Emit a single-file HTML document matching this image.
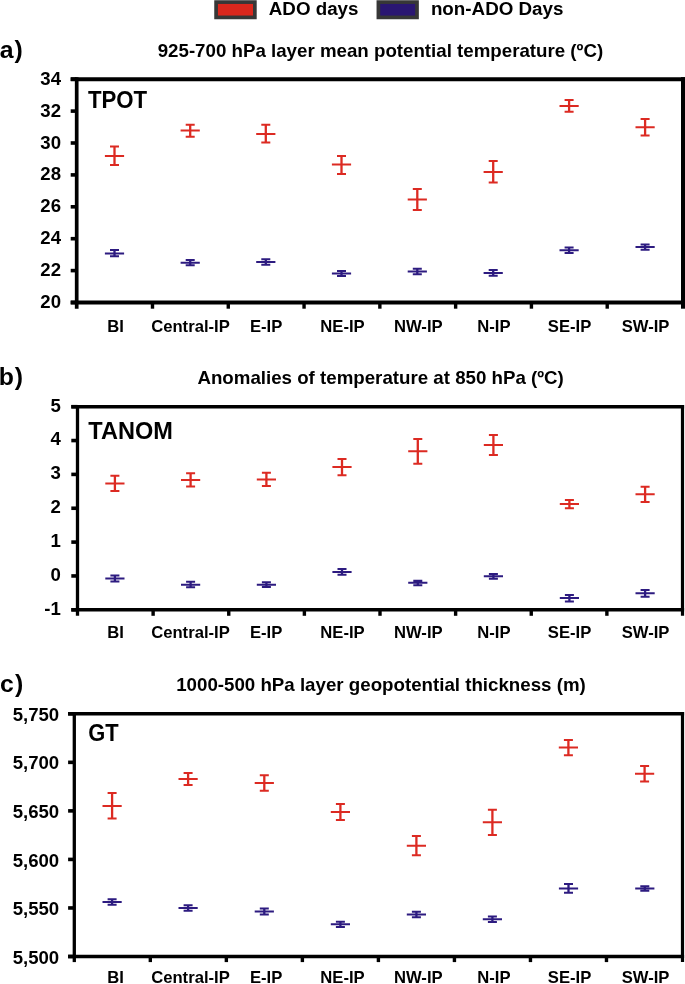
<!DOCTYPE html>
<html><head><meta charset="utf-8"><title>ADO vs non-ADO days</title>
<style>
html,body{margin:0;padding:0;background:#fff;}
body{width:685px;height:984px;overflow:hidden;font-family:"Liberation Sans", sans-serif;}
svg{display:block;will-change:transform;}
</style></head><body>
<svg width="685" height="984" viewBox="0 0 685 984" font-family='"Liberation Sans", sans-serif' font-weight="bold" fill="#000">
<rect width="685" height="984" fill="#fff"/>
<rect x="216.1" y="2.1" width="38.75" height="15.3" fill="#da271d" stroke="#373737" stroke-width="3.7"/>
<rect x="378.4" y="2.1" width="38.6" height="15.3" fill="#2a1672" stroke="#373737" stroke-width="3.7"/>
<text x="268.8" y="14.7" font-size="18.75">ADO days</text>
<text x="430.9" y="14.7" font-size="18.8">non-ADO Days</text>
<text x="-0.3" y="58" font-size="24.8">a<tspan dx="0.9">)</tspan></text>
<text x="-1.3" y="385.1" font-size="24.8">b<tspan dx="0.9">)</tspan></text>
<text x="0" y="691.9" font-size="24.8">c<tspan dx="1.1">)</tspan></text>
<text x="157.7" y="56.6" font-size="18.72">925-700 hPa layer mean potential temperature (ºC)</text>
<text x="197.4" y="383.7" font-size="18.72">Anomalies of temperature at 850 hPa (ºC)</text>
<text x="176.2" y="691.3" font-size="18.71">1000-500 hPa layer geopotential thickness (m)</text>
<line x1="76.7" y1="77.20" x2="76.7" y2="308.70" stroke="#000" stroke-width="3.7"/>
<line x1="683.0" y1="77.20" x2="683.0" y2="308.70" stroke="#000" stroke-width="4.0"/>
<line x1="70.70" y1="79.2" x2="685.00" y2="79.2" stroke="#000" stroke-width="4.0"/>
<line x1="70.70" y1="302.5" x2="685.00" y2="302.5" stroke="#000" stroke-width="4.2"/>
<line x1="70.70" y1="79.20" x2="76.7" y2="79.20" stroke="#000" stroke-width="3.6"/>
<text x="61.0" y="84.70" text-anchor="end" font-size="18.6">34</text>
<line x1="70.70" y1="111.10" x2="76.7" y2="111.10" stroke="#000" stroke-width="3.6"/>
<text x="61.0" y="116.60" text-anchor="end" font-size="18.6">32</text>
<line x1="70.70" y1="143.00" x2="76.7" y2="143.00" stroke="#000" stroke-width="3.6"/>
<text x="61.0" y="148.50" text-anchor="end" font-size="18.6">30</text>
<line x1="70.70" y1="174.90" x2="76.7" y2="174.90" stroke="#000" stroke-width="3.6"/>
<text x="61.0" y="180.40" text-anchor="end" font-size="18.6">28</text>
<line x1="70.70" y1="206.80" x2="76.7" y2="206.80" stroke="#000" stroke-width="3.6"/>
<text x="61.0" y="212.30" text-anchor="end" font-size="18.6">26</text>
<line x1="70.70" y1="238.70" x2="76.7" y2="238.70" stroke="#000" stroke-width="3.6"/>
<text x="61.0" y="244.20" text-anchor="end" font-size="18.6">24</text>
<line x1="70.70" y1="270.60" x2="76.7" y2="270.60" stroke="#000" stroke-width="3.6"/>
<text x="61.0" y="276.10" text-anchor="end" font-size="18.6">22</text>
<line x1="70.70" y1="302.50" x2="76.7" y2="302.50" stroke="#000" stroke-width="3.6"/>
<text x="61.0" y="308.00" text-anchor="end" font-size="18.6">20</text>
<line x1="152.49" y1="302.5" x2="152.49" y2="308.70" stroke="#000" stroke-width="3.4"/>
<line x1="228.27" y1="302.5" x2="228.27" y2="308.70" stroke="#000" stroke-width="3.4"/>
<line x1="304.06" y1="302.5" x2="304.06" y2="308.70" stroke="#000" stroke-width="3.4"/>
<line x1="379.85" y1="302.5" x2="379.85" y2="308.70" stroke="#000" stroke-width="3.4"/>
<line x1="455.64" y1="302.5" x2="455.64" y2="308.70" stroke="#000" stroke-width="3.4"/>
<line x1="531.42" y1="302.5" x2="531.42" y2="308.70" stroke="#000" stroke-width="3.4"/>
<line x1="607.21" y1="302.5" x2="607.21" y2="308.70" stroke="#000" stroke-width="3.4"/>
<text x="115.6" y="331.7" text-anchor="middle" font-size="16.65">BI</text>
<text x="190.5" y="331.7" text-anchor="middle" font-size="16.65">Central-IP</text>
<text x="266.1" y="331.7" text-anchor="middle" font-size="16.65">E-IP</text>
<text x="342.5" y="331.7" text-anchor="middle" font-size="16.65">NE-IP</text>
<text x="418.3" y="331.7" text-anchor="middle" font-size="16.65">NW-IP</text>
<text x="493.9" y="331.7" text-anchor="middle" font-size="16.65">N-IP</text>
<text x="569.6" y="331.7" text-anchor="middle" font-size="16.65">SE-IP</text>
<text x="645.6" y="331.7" text-anchor="middle" font-size="16.65">SW-IP</text>
<text x="87.9" y="107.8" font-size="23.0" textLength="59.3" lengthAdjust="spacingAndGlyphs">TPOT</text>
<path d="M114.5 146.6V164.9" stroke="#dc2a22" stroke-width="2.3" fill="none"/>
<path d="M110.0 146.6H119.0M110.0 164.9H119.0M104.9 155.9H124.1" stroke="#dc2a22" stroke-width="2.0" fill="none"/>
<path d="M190.2 124.7V136.7" stroke="#dc2a22" stroke-width="2.3" fill="none"/>
<path d="M185.7 124.7H194.7M185.7 136.7H194.7M180.6 130.5H199.8" stroke="#dc2a22" stroke-width="2.0" fill="none"/>
<path d="M265.8 124.7V142.6" stroke="#dc2a22" stroke-width="2.3" fill="none"/>
<path d="M261.3 124.7H270.3M261.3 142.6H270.3M256.2 134.0H275.4" stroke="#dc2a22" stroke-width="2.0" fill="none"/>
<path d="M341.5 156.0V173.9" stroke="#dc2a22" stroke-width="2.3" fill="none"/>
<path d="M337.0 156.0H346.0M337.0 173.9H346.0M331.9 164.5H351.1" stroke="#dc2a22" stroke-width="2.0" fill="none"/>
<path d="M417.3 188.9V210.0" stroke="#dc2a22" stroke-width="2.3" fill="none"/>
<path d="M412.8 188.9H421.8M412.8 210.0H421.8M407.7 199.4H426.9" stroke="#dc2a22" stroke-width="2.0" fill="none"/>
<path d="M493.2 161.1V182.4" stroke="#dc2a22" stroke-width="2.3" fill="none"/>
<path d="M488.7 161.1H497.7M488.7 182.4H497.7M483.6 171.9H502.8" stroke="#dc2a22" stroke-width="2.0" fill="none"/>
<path d="M569.1 99.9V111.8" stroke="#dc2a22" stroke-width="2.3" fill="none"/>
<path d="M564.6 99.9H573.6M564.6 111.8H573.6M559.5 105.9H578.7" stroke="#dc2a22" stroke-width="2.0" fill="none"/>
<path d="M645.1 119.0V135.4" stroke="#dc2a22" stroke-width="2.3" fill="none"/>
<path d="M640.6 119.0H649.6M640.6 135.4H649.6M635.5 127.3H654.7" stroke="#dc2a22" stroke-width="2.0" fill="none"/>
<path d="M114.5 250.0V256.3" stroke="#2d1b80" stroke-width="2.3" fill="none"/>
<path d="M110.0 250.0H119.0M110.0 256.3H119.0M104.9 253.4H124.1" stroke="#2d1b80" stroke-width="2.0" fill="none"/>
<path d="M190.2 260.0V265.3" stroke="#2d1b80" stroke-width="2.3" fill="none"/>
<path d="M185.7 260.0H194.7M185.7 265.3H194.7M180.6 262.8H199.8" stroke="#2d1b80" stroke-width="2.0" fill="none"/>
<path d="M265.8 259.3V264.8" stroke="#2d1b80" stroke-width="2.3" fill="none"/>
<path d="M261.3 259.3H270.3M261.3 264.8H270.3M256.2 262.1H275.4" stroke="#2d1b80" stroke-width="2.0" fill="none"/>
<path d="M341.5 271.0V276.0" stroke="#2d1b80" stroke-width="2.3" fill="none"/>
<path d="M337.0 271.0H346.0M337.0 276.0H346.0M331.9 273.5H351.1" stroke="#2d1b80" stroke-width="2.0" fill="none"/>
<path d="M417.3 268.7V274.2" stroke="#2d1b80" stroke-width="2.3" fill="none"/>
<path d="M412.8 268.7H421.8M412.8 274.2H421.8M407.7 271.5H426.9" stroke="#2d1b80" stroke-width="2.0" fill="none"/>
<path d="M493.2 270.0V275.7" stroke="#2d1b80" stroke-width="2.3" fill="none"/>
<path d="M488.7 270.0H497.7M488.7 275.7H497.7M483.6 272.9H502.8" stroke="#2d1b80" stroke-width="2.0" fill="none"/>
<path d="M569.1 247.6V253.1" stroke="#2d1b80" stroke-width="2.3" fill="none"/>
<path d="M564.6 247.6H573.6M564.6 253.1H573.6M559.5 250.3H578.7" stroke="#2d1b80" stroke-width="2.0" fill="none"/>
<path d="M645.1 244.5V249.8" stroke="#2d1b80" stroke-width="2.3" fill="none"/>
<path d="M640.6 244.5H649.6M640.6 249.8H649.6M635.5 247.1H654.7" stroke="#2d1b80" stroke-width="2.0" fill="none"/>
<line x1="77.5" y1="404.90" x2="77.5" y2="615.80" stroke="#000" stroke-width="3.3"/>
<line x1="682.5" y1="404.90" x2="682.5" y2="615.80" stroke="#000" stroke-width="3.2"/>
<line x1="71.30" y1="406.7" x2="684.10" y2="406.7" stroke="#000" stroke-width="3.6"/>
<line x1="71.30" y1="609.8" x2="684.10" y2="609.8" stroke="#000" stroke-width="3.6"/>
<line x1="71.30" y1="406.70" x2="77.5" y2="406.70" stroke="#000" stroke-width="3.6"/>
<text x="60.9" y="411.60" text-anchor="end" font-size="18.6">5</text>
<line x1="71.30" y1="440.55" x2="77.5" y2="440.55" stroke="#000" stroke-width="3.6"/>
<text x="60.9" y="445.45" text-anchor="end" font-size="18.6">4</text>
<line x1="71.30" y1="474.40" x2="77.5" y2="474.40" stroke="#000" stroke-width="3.6"/>
<text x="60.9" y="479.30" text-anchor="end" font-size="18.6">3</text>
<line x1="71.30" y1="508.25" x2="77.5" y2="508.25" stroke="#000" stroke-width="3.6"/>
<text x="60.9" y="513.15" text-anchor="end" font-size="18.6">2</text>
<line x1="71.30" y1="542.10" x2="77.5" y2="542.10" stroke="#000" stroke-width="3.6"/>
<text x="60.9" y="547.00" text-anchor="end" font-size="18.6">1</text>
<line x1="71.30" y1="575.95" x2="77.5" y2="575.95" stroke="#000" stroke-width="3.6"/>
<text x="60.9" y="580.85" text-anchor="end" font-size="18.6">0</text>
<line x1="71.30" y1="609.80" x2="77.5" y2="609.80" stroke="#000" stroke-width="3.6"/>
<text x="60.9" y="614.70" text-anchor="end" font-size="18.6">-1</text>
<line x1="153.12" y1="609.8" x2="153.12" y2="615.80" stroke="#000" stroke-width="3.4"/>
<line x1="228.75" y1="609.8" x2="228.75" y2="615.80" stroke="#000" stroke-width="3.4"/>
<line x1="304.38" y1="609.8" x2="304.38" y2="615.80" stroke="#000" stroke-width="3.4"/>
<line x1="380.00" y1="609.8" x2="380.00" y2="615.80" stroke="#000" stroke-width="3.4"/>
<line x1="455.62" y1="609.8" x2="455.62" y2="615.80" stroke="#000" stroke-width="3.4"/>
<line x1="531.25" y1="609.8" x2="531.25" y2="615.80" stroke="#000" stroke-width="3.4"/>
<line x1="606.88" y1="609.8" x2="606.88" y2="615.80" stroke="#000" stroke-width="3.4"/>
<text x="115.6" y="638.3" text-anchor="middle" font-size="16.65">BI</text>
<text x="190.5" y="638.3" text-anchor="middle" font-size="16.65">Central-IP</text>
<text x="266.1" y="638.3" text-anchor="middle" font-size="16.65">E-IP</text>
<text x="342.5" y="638.3" text-anchor="middle" font-size="16.65">NE-IP</text>
<text x="418.3" y="638.3" text-anchor="middle" font-size="16.65">NW-IP</text>
<text x="493.9" y="638.3" text-anchor="middle" font-size="16.65">N-IP</text>
<text x="569.6" y="638.3" text-anchor="middle" font-size="16.65">SE-IP</text>
<text x="645.6" y="638.3" text-anchor="middle" font-size="16.65">SW-IP</text>
<text x="88.3" y="439.0" font-size="23.0" textLength="84.6" lengthAdjust="spacingAndGlyphs">TANOM</text>
<path d="M114.9 475.8V491.1" stroke="#dc2a22" stroke-width="2.3" fill="none"/>
<path d="M110.4 475.8H119.4M110.4 491.1H119.4M105.3 483.4H124.5" stroke="#dc2a22" stroke-width="2.0" fill="none"/>
<path d="M190.6 473.3V486.4" stroke="#dc2a22" stroke-width="2.3" fill="none"/>
<path d="M186.1 473.3H195.1M186.1 486.4H195.1M181.0 479.9H200.2" stroke="#dc2a22" stroke-width="2.0" fill="none"/>
<path d="M266.4 472.7V486.0" stroke="#dc2a22" stroke-width="2.3" fill="none"/>
<path d="M261.9 472.7H270.9M261.9 486.0H270.9M256.8 479.5H276.0" stroke="#dc2a22" stroke-width="2.0" fill="none"/>
<path d="M342.0 459.0V475.2" stroke="#dc2a22" stroke-width="2.3" fill="none"/>
<path d="M337.5 459.0H346.5M337.5 475.2H346.5M332.4 466.9H351.6" stroke="#dc2a22" stroke-width="2.0" fill="none"/>
<path d="M417.8 438.9V463.8" stroke="#dc2a22" stroke-width="2.3" fill="none"/>
<path d="M413.3 438.9H422.3M413.3 463.8H422.3M408.2 451.3H427.4" stroke="#dc2a22" stroke-width="2.0" fill="none"/>
<path d="M493.4 435.0V455.0" stroke="#dc2a22" stroke-width="2.3" fill="none"/>
<path d="M488.9 435.0H497.9M488.9 455.0H497.9M483.8 445.1H503.0" stroke="#dc2a22" stroke-width="2.0" fill="none"/>
<path d="M569.4 500.0V508.2" stroke="#dc2a22" stroke-width="2.3" fill="none"/>
<path d="M564.9 500.0H573.9M564.9 508.2H573.9M559.8 504.0H579.0" stroke="#dc2a22" stroke-width="2.0" fill="none"/>
<path d="M645.1 486.8V501.9" stroke="#dc2a22" stroke-width="2.3" fill="none"/>
<path d="M640.6 486.8H649.6M640.6 501.9H649.6M635.5 494.2H654.7" stroke="#dc2a22" stroke-width="2.0" fill="none"/>
<path d="M114.9 575.4V581.4" stroke="#2d1b80" stroke-width="2.3" fill="none"/>
<path d="M110.4 575.4H119.4M110.4 581.4H119.4M105.3 578.6H124.5" stroke="#2d1b80" stroke-width="2.0" fill="none"/>
<path d="M190.6 581.8V587.3" stroke="#2d1b80" stroke-width="2.3" fill="none"/>
<path d="M186.1 581.8H195.1M186.1 587.3H195.1M181.0 584.7H200.2" stroke="#2d1b80" stroke-width="2.0" fill="none"/>
<path d="M266.4 582.2V587.1" stroke="#2d1b80" stroke-width="2.3" fill="none"/>
<path d="M261.9 582.2H270.9M261.9 587.1H270.9M256.8 584.7H276.0" stroke="#2d1b80" stroke-width="2.0" fill="none"/>
<path d="M342.0 569.1V574.8" stroke="#2d1b80" stroke-width="2.3" fill="none"/>
<path d="M337.5 569.1H346.5M337.5 574.8H346.5M332.4 571.9H351.6" stroke="#2d1b80" stroke-width="2.0" fill="none"/>
<path d="M417.8 580.7V585.2" stroke="#2d1b80" stroke-width="2.3" fill="none"/>
<path d="M413.3 580.7H422.3M413.3 585.2H422.3M408.2 582.8H427.4" stroke="#2d1b80" stroke-width="2.0" fill="none"/>
<path d="M493.4 573.9V578.8" stroke="#2d1b80" stroke-width="2.3" fill="none"/>
<path d="M488.9 573.9H497.9M488.9 578.8H497.9M483.8 576.3H503.0" stroke="#2d1b80" stroke-width="2.0" fill="none"/>
<path d="M569.4 595.0V601.4" stroke="#2d1b80" stroke-width="2.3" fill="none"/>
<path d="M564.9 595.0H573.9M564.9 601.4H573.9M559.8 598.0H579.0" stroke="#2d1b80" stroke-width="2.0" fill="none"/>
<path d="M645.1 589.9V596.7" stroke="#2d1b80" stroke-width="2.3" fill="none"/>
<path d="M640.6 589.9H649.6M640.6 596.7H649.6M635.5 593.3H654.7" stroke="#2d1b80" stroke-width="2.0" fill="none"/>
<line x1="74.3" y1="712.05" x2="74.3" y2="962.10" stroke="#000" stroke-width="3.3"/>
<line x1="682.5" y1="712.05" x2="682.5" y2="962.10" stroke="#000" stroke-width="3.2"/>
<line x1="68.10" y1="713.8" x2="684.10" y2="713.8" stroke="#000" stroke-width="3.5"/>
<line x1="68.10" y1="956.5" x2="684.10" y2="956.5" stroke="#000" stroke-width="3.5"/>
<line x1="68.10" y1="713.80" x2="74.3" y2="713.80" stroke="#000" stroke-width="3.6"/>
<text x="59.2" y="720.90" text-anchor="end" font-size="18.6">5,750</text>
<line x1="68.10" y1="762.34" x2="74.3" y2="762.34" stroke="#000" stroke-width="3.6"/>
<text x="59.2" y="769.44" text-anchor="end" font-size="18.6">5,700</text>
<line x1="68.10" y1="810.88" x2="74.3" y2="810.88" stroke="#000" stroke-width="3.6"/>
<text x="59.2" y="817.98" text-anchor="end" font-size="18.6">5,650</text>
<line x1="68.10" y1="859.42" x2="74.3" y2="859.42" stroke="#000" stroke-width="3.6"/>
<text x="59.2" y="866.52" text-anchor="end" font-size="18.6">5,600</text>
<line x1="68.10" y1="907.96" x2="74.3" y2="907.96" stroke="#000" stroke-width="3.6"/>
<text x="59.2" y="915.06" text-anchor="end" font-size="18.6">5,550</text>
<line x1="68.10" y1="956.50" x2="74.3" y2="956.50" stroke="#000" stroke-width="3.6"/>
<text x="59.2" y="963.60" text-anchor="end" font-size="18.6">5,500</text>
<line x1="150.32" y1="956.5" x2="150.32" y2="962.10" stroke="#000" stroke-width="3.4"/>
<line x1="226.35" y1="956.5" x2="226.35" y2="962.10" stroke="#000" stroke-width="3.4"/>
<line x1="302.38" y1="956.5" x2="302.38" y2="962.10" stroke="#000" stroke-width="3.4"/>
<line x1="378.40" y1="956.5" x2="378.40" y2="962.10" stroke="#000" stroke-width="3.4"/>
<line x1="454.43" y1="956.5" x2="454.43" y2="962.10" stroke="#000" stroke-width="3.4"/>
<line x1="530.45" y1="956.5" x2="530.45" y2="962.10" stroke="#000" stroke-width="3.4"/>
<line x1="606.48" y1="956.5" x2="606.48" y2="962.10" stroke="#000" stroke-width="3.4"/>
<text x="115.6" y="983.0" text-anchor="middle" font-size="16.65">BI</text>
<text x="190.5" y="983.0" text-anchor="middle" font-size="16.65">Central-IP</text>
<text x="266.1" y="983.0" text-anchor="middle" font-size="16.65">E-IP</text>
<text x="342.5" y="983.0" text-anchor="middle" font-size="16.65">NE-IP</text>
<text x="418.3" y="983.0" text-anchor="middle" font-size="16.65">NW-IP</text>
<text x="493.9" y="983.0" text-anchor="middle" font-size="16.65">N-IP</text>
<text x="569.6" y="983.0" text-anchor="middle" font-size="16.65">SE-IP</text>
<text x="645.6" y="983.0" text-anchor="middle" font-size="16.65">SW-IP</text>
<text x="88.2" y="741.4" font-size="23.2" textLength="30.4" lengthAdjust="spacingAndGlyphs">GT</text>
<path d="M112.1 792.9V818.5" stroke="#dc2a22" stroke-width="2.3" fill="none"/>
<path d="M107.6 792.9H116.6M107.6 818.5H116.6M102.5 805.9H121.7" stroke="#dc2a22" stroke-width="2.0" fill="none"/>
<path d="M188.1 772.9V784.9" stroke="#dc2a22" stroke-width="2.3" fill="none"/>
<path d="M183.6 772.9H192.6M183.6 784.9H192.6M178.5 778.9H197.7" stroke="#dc2a22" stroke-width="2.0" fill="none"/>
<path d="M264.3 775.3V790.7" stroke="#dc2a22" stroke-width="2.3" fill="none"/>
<path d="M259.8 775.3H268.8M259.8 790.7H268.8M254.7 783.0H273.9" stroke="#dc2a22" stroke-width="2.0" fill="none"/>
<path d="M340.4 803.9V820.1" stroke="#dc2a22" stroke-width="2.3" fill="none"/>
<path d="M335.9 803.9H344.9M335.9 820.1H344.9M330.8 812.0H350.0" stroke="#dc2a22" stroke-width="2.0" fill="none"/>
<path d="M416.4 835.9V855.3" stroke="#dc2a22" stroke-width="2.3" fill="none"/>
<path d="M411.9 835.9H420.9M411.9 855.3H420.9M406.8 845.8H426.0" stroke="#dc2a22" stroke-width="2.0" fill="none"/>
<path d="M492.4 809.7V834.9" stroke="#dc2a22" stroke-width="2.3" fill="none"/>
<path d="M487.9 809.7H496.9M487.9 834.9H496.9M482.8 822.3H502.0" stroke="#dc2a22" stroke-width="2.0" fill="none"/>
<path d="M568.4 740.1V755.2" stroke="#dc2a22" stroke-width="2.3" fill="none"/>
<path d="M563.9 740.1H572.9M563.9 755.2H572.9M558.8 747.6H578.0" stroke="#dc2a22" stroke-width="2.0" fill="none"/>
<path d="M644.6 765.9V781.6" stroke="#dc2a22" stroke-width="2.3" fill="none"/>
<path d="M640.1 765.9H649.1M640.1 781.6H649.1M635.0 773.7H654.2" stroke="#dc2a22" stroke-width="2.0" fill="none"/>
<path d="M112.1 899.2V904.7" stroke="#2d1b80" stroke-width="2.3" fill="none"/>
<path d="M107.6 899.2H116.6M107.6 904.7H116.6M102.5 902.0H121.7" stroke="#2d1b80" stroke-width="2.0" fill="none"/>
<path d="M188.1 905.3V910.7" stroke="#2d1b80" stroke-width="2.3" fill="none"/>
<path d="M183.6 905.3H192.6M183.6 910.7H192.6M178.5 908.1H197.7" stroke="#2d1b80" stroke-width="2.0" fill="none"/>
<path d="M264.3 908.4V914.5" stroke="#2d1b80" stroke-width="2.3" fill="none"/>
<path d="M259.8 908.4H268.8M259.8 914.5H268.8M254.7 911.4H273.9" stroke="#2d1b80" stroke-width="2.0" fill="none"/>
<path d="M340.4 921.7V927.0" stroke="#2d1b80" stroke-width="2.3" fill="none"/>
<path d="M335.9 921.7H344.9M335.9 927.0H344.9M330.8 924.2H350.0" stroke="#2d1b80" stroke-width="2.0" fill="none"/>
<path d="M416.4 911.7V917.2" stroke="#2d1b80" stroke-width="2.3" fill="none"/>
<path d="M411.9 911.7H420.9M411.9 917.2H420.9M406.8 914.6H426.0" stroke="#2d1b80" stroke-width="2.0" fill="none"/>
<path d="M492.4 916.6V922.1" stroke="#2d1b80" stroke-width="2.3" fill="none"/>
<path d="M487.9 916.6H496.9M487.9 922.1H496.9M482.8 919.3H502.0" stroke="#2d1b80" stroke-width="2.0" fill="none"/>
<path d="M568.5 884.1V892.7" stroke="#2d1b80" stroke-width="2.3" fill="none"/>
<path d="M564.0 884.1H573.0M564.0 892.7H573.0M558.9 888.5H578.1" stroke="#2d1b80" stroke-width="2.0" fill="none"/>
<path d="M644.8 886.2V890.7" stroke="#2d1b80" stroke-width="2.3" fill="none"/>
<path d="M640.3 886.2H649.3M640.3 890.7H649.3M635.2 888.5H654.4" stroke="#2d1b80" stroke-width="2.0" fill="none"/>
</svg>
</body></html>
